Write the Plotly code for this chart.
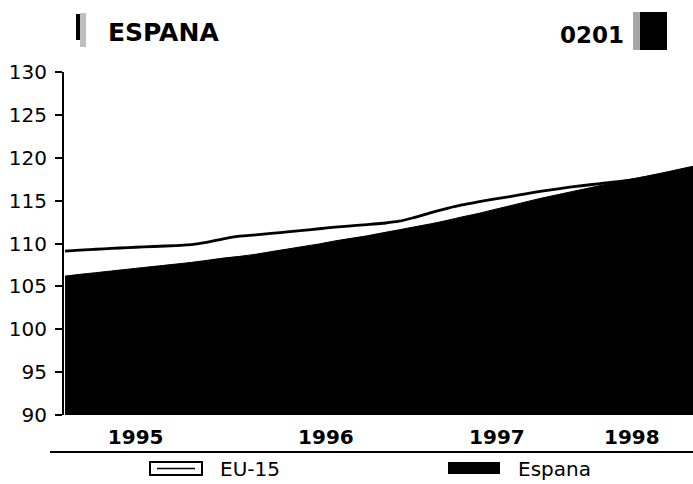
import pandas as pd
import plotly.graph_objects as go

# Monthly observations, Feb 1995 .. Jun 1998 (mid-month)
months = [p.to_timestamp() + pd.Timedelta(days=14)
          for p in pd.period_range("1995-02", "1998-06", freq="M")]

espana = [106.2, 106.4, 106.6, 106.8, 107.0, 107.2, 107.4, 107.6, 107.8, 108.05,
          108.3, 108.5, 108.75, 109.05, 109.35, 109.65, 109.95, 110.3, 110.6, 110.9,
          111.25, 111.6, 111.95, 112.3, 112.7, 113.1, 113.5, 113.95, 114.4, 114.85,
          115.3, 115.7, 116.1, 116.5, 116.9, 117.3, 117.65, 118.0, 118.4, 118.8, 119.2]

eu15 = [109.1, 109.22, 109.33, 109.43, 109.52, 109.6, 109.68, 109.76, 109.86, 110.15,
        110.55, 110.85, 111.0, 111.17, 111.35, 111.53, 111.72, 111.9, 112.06, 112.2,
        112.36, 112.6, 113.05, 113.6, 114.1, 114.5, 114.85, 115.17, 115.48, 115.8,
        116.1, 116.38, 116.62, 116.85, 117.07, 117.28, 117.55, 117.85, 118.15, 118.5, 118.85]

year_tick_dates = ["1995-06-30", "1996-06-28", "1997-05-21", "1998-02-03"]
year_tick_labels = ["1995", "1996", "1997", "1998"]
y_ticks = [90, 95, 100, 105, 110, 115, 120, 125, 130]

W, H = 693, 484
L, R, T, B = 64, 0, 72, 69
PW, PH = W - L - R, H - T - B


def px(xp):
    return (xp - L) / PW


def py(yp):
    return (H - B - yp) / PH


FONT = "DejaVu Sans"

fig = go.Figure()
fig.add_trace(go.Scatter(x=months, y=espana, mode="lines", name="Espana",
                         line=dict(color="black", width=1, shape="spline"),
                         fill="tozeroy", fillcolor="black", showlegend=False))
fig.add_trace(go.Scatter(x=months, y=eu15, mode="lines", name="EU-15",
                         line=dict(color="black", width=2.8, shape="spline"),
                         showlegend=False))

shapes = [
    # rule under the year labels
    dict(type="line", xref="paper", yref="paper", x0=px(50), x1=px(693),
         y0=py(452), y1=py(452), line=dict(color="black", width=2)),
    # EU-15 legend key
    dict(type="rect", xref="paper", yref="paper", x0=px(150), x1=px(202),
         y0=py(475), y1=py(462), line=dict(color="black", width=2), fillcolor="white"),
    dict(type="line", xref="paper", yref="paper", x0=px(157), x1=px(195),
         y0=py(468.5), y1=py(468.5), line=dict(color="black", width=1.5)),
    # Espana legend key
    dict(type="rect", xref="paper", yref="paper", x0=px(448), x1=px(500),
         y0=py(474), y1=py(462), line=dict(width=0), fillcolor="black"),
    # header marks
    dict(type="rect", xref="paper", yref="paper", x0=px(76), x1=px(80),
         y0=py(40), y1=py(14), line=dict(width=0), fillcolor="black"),
    dict(type="rect", xref="paper", yref="paper", x0=px(80), x1=px(86),
         y0=py(47), y1=py(13), line=dict(width=0), fillcolor="rgba(0,0,0,0.25)"),
    dict(type="rect", xref="paper", yref="paper", x0=px(633), x1=px(640),
         y0=py(50), y1=py(12), line=dict(width=0), fillcolor="rgba(0,0,0,0.35)"),
    dict(type="rect", xref="paper", yref="paper", x0=px(640), x1=px(667),
         y0=py(50), y1=py(12), line=dict(width=0), fillcolor="black"),
]

annotations = [
    dict(text="<b>ESPANA</b>", xref="paper", yref="paper", x=px(106), y=py(33),
         xanchor="left", yanchor="middle", showarrow=False,
         font=dict(family=FONT, size=25, color="black")),
    dict(text="<b>0201</b>", xref="paper", yref="paper", x=px(626), y=py(35),
         xanchor="right", yanchor="middle", showarrow=False,
         font=dict(family=FONT, size=23, color="black")),
    dict(text="EU-15", xref="paper", yref="paper", x=px(218), y=py(469),
         xanchor="left", yanchor="middle", showarrow=False,
         font=dict(family=FONT, size=20, color="black")),
    dict(text="Espana", xref="paper", yref="paper", x=px(516), y=py(469),
         xanchor="left", yanchor="middle", showarrow=False,
         font=dict(family=FONT, size=20, color="black")),
]

fig.update_layout(
    width=W, height=H,
    margin=dict(l=L, r=R, t=T, b=B, pad=0),
    paper_bgcolor="white", plot_bgcolor="white",
    shapes=shapes, annotations=annotations,
    showlegend=False,
    xaxis=dict(type="date", range=["1995-02-13", "1998-05-31"],
               tickmode="array", tickvals=year_tick_dates, ticktext=year_tick_labels,
               ticks="", showgrid=False, zeroline=False, showline=False,
               tickfont=dict(family=FONT, size=20, color="black", weight="bold"),
               ticklabelstandoff=8),
    yaxis=dict(range=[90, 130], tickmode="array", tickvals=y_ticks,
               ticks="outside", ticklen=7, tickwidth=2, tickcolor="black",
               showline=True, linewidth=2, linecolor="black",
               showgrid=False, zeroline=False,
               tickfont=dict(family=FONT, size=20, color="black"),
               ticklabelstandoff=4),
)

fig.write_html("out.html", config={"displayModeBar": False},
               post_script="document.body.style.margin='0';document.body.style.overflow='hidden';")
